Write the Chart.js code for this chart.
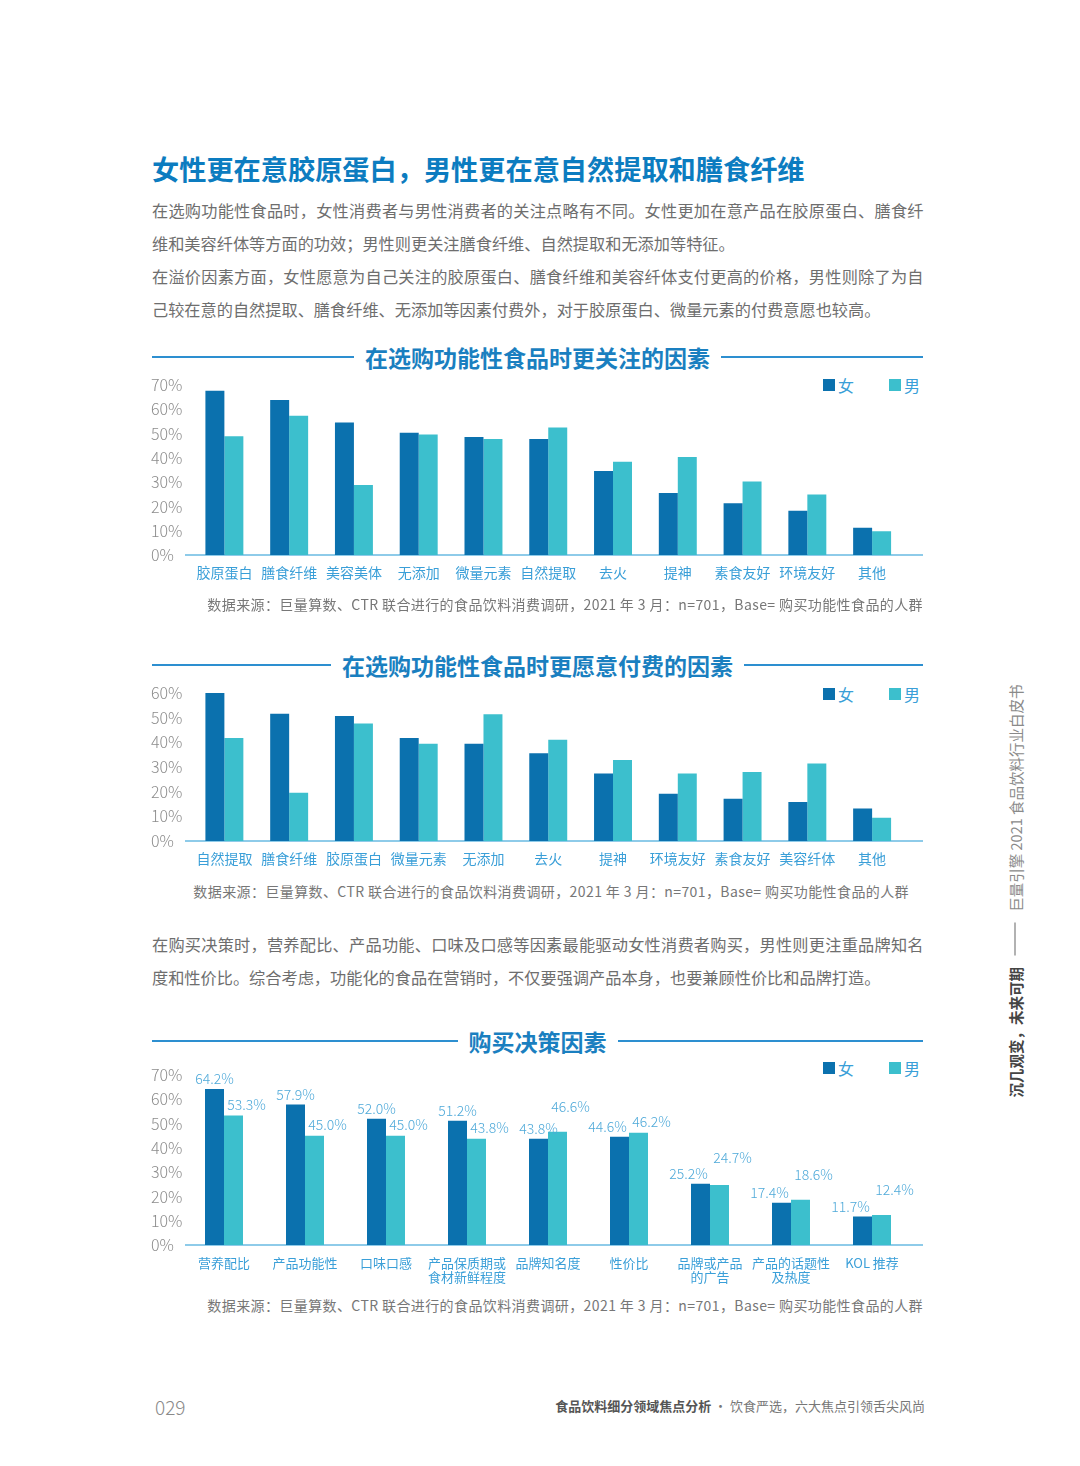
<!DOCTYPE html>
<html><head><meta charset="utf-8">
<script src="https://cdn.jsdelivr.net/npm/chart.js@4.4.0/dist/chart.umd.min.js"></script>
<style>
body{margin:0;background:#fff;}
#page{position:relative;width:1080px;height:1466px;overflow:hidden;background:#fff;font-family:"Noto Sans CJK SC","Noto Sans",sans-serif;}
.abs{position:absolute;}
.title{left:152px;top:148px;font-size:27.2px;font-weight:bold;color:#0c7cc0;white-space:nowrap;line-height:40px;}
.para{left:152px;width:771px;font-size:16.2px;color:#6e6e6e;white-space:nowrap;line-height:33px;}
.para .j{text-align:justify;text-align-last:justify;letter-spacing:-0.5px;}
.sec{left:152px;width:771px;height:32px;display:flex;align-items:center;}
.sec .ln{flex:1;height:2px;background:#2d8fd0;}
.sec .tx{font-size:23px;font-weight:bold;color:#1a7fc0;margin:0 11px;white-space:nowrap;line-height:32px;}
.legend{height:20px;display:flex;align-items:center;font-size:16px;color:#3a9fd8;}
.legend .sq{width:12px;height:12px;display:inline-block;margin-right:3px;}
.src{font-size:14px;letter-spacing:0.4px;color:#777;white-space:nowrap;line-height:20px;}
canvas{position:absolute;}
.side{left:808px;top:881px;width:413px;height:20px;transform:rotate(-90deg);transform-origin:50% 50%;display:flex;align-items:center;font-size:14.5px;white-space:nowrap;}
</style></head><body>
<div id="page">
  <div class="abs title">女性更在意胶原蛋白，男性更在意自然提取和膳食纤维</div>
  <div class="abs para" style="top:194px;">
    <div class="j">在选购功能性食品时，女性消费者与男性消费者的关注点略有不同。女性更加在意产品在胶原蛋白、膳食纤</div>
    <div>维和美容纤体等方面的功效；男性则更关注膳食纤维、自然提取和无添加等特征。</div>
    <div class="j">在溢价因素方面，女性愿意为自己关注的胶原蛋白、膳食纤维和美容纤体支付更高的价格，男性则除了为自</div>
    <div>己较在意的自然提取、膳食纤维、无添加等因素付费外，对于胶原蛋白、微量元素的付费意愿也较高。</div>
  </div>

  <div class="abs sec" style="top:341px;"><div class="ln"></div><div class="tx">在选购功能性食品时更关注的因素</div><div class="ln"></div></div>
  <div class="abs legend" style="left:823px;top:375px;"><span class="sq" style="background:#0b71ae"></span>女<span style="width:35px"></span><span class="sq" style="background:#3cbfcd"></span>男</div>
  <canvas id="c1" width="790" height="225" style="left:140px;top:370px;"></canvas>
  <div class="abs src" style="right:157px;top:594px;">数据来源：巨量算数、CTR 联合进行的食品饮料消费调研，2021 年 3 月：n=701，Base= 购买功能性食品的人群</div>

  <div class="abs sec" style="top:649px;"><div class="ln"></div><div class="tx">在选购功能性食品时更愿意付费的因素</div><div class="ln"></div></div>
  <div class="abs legend" style="left:823px;top:684px;"><span class="sq" style="background:#0b71ae"></span>女<span style="width:35px"></span><span class="sq" style="background:#3cbfcd"></span>男</div>
  <canvas id="c2" width="790" height="200" style="left:140px;top:680px;"></canvas>
  <div class="abs src" style="right:171px;top:881px;">数据来源：巨量算数、CTR 联合进行的食品饮料消费调研，2021 年 3 月：n=701，Base= 购买功能性食品的人群</div>

  <div class="abs para" style="top:928px;">
    <div class="j">在购买决策时，营养配比、产品功能、口味及口感等因素最能驱动女性消费者购买，男性则更注重品牌知名</div>
    <div>度和性价比。综合考虑，功能化的食品在营销时，不仅要强调产品本身，也要兼顾性价比和品牌打造。</div>
  </div>

  <div class="abs sec" style="top:1025px;"><div class="ln"></div><div class="tx">购买决策因素</div><div class="ln"></div></div>
  <div class="abs legend" style="left:823px;top:1058px;"><span class="sq" style="background:#0b71ae"></span>女<span style="width:35px"></span><span class="sq" style="background:#3cbfcd"></span>男</div>
  <canvas id="c3" width="790" height="240" style="left:140px;top:1055px;"></canvas>
  <div class="abs src" style="right:157px;top:1295px;">数据来源：巨量算数、CTR 联合进行的食品饮料消费调研，2021 年 3 月：n=701，Base= 购买功能性食品的人群</div>

  <div class="abs side"><span style="font-weight:bold;color:#444;">沉几观变，未来可期</span><span style="display:inline-block;width:35px;height:1px;background:#666;margin:0 11px;"></span><span style="color:#8a8a8a;">巨量引擎 2021 食品饮料行业白皮书</span></div>

  <div class="abs" style="left:155px;top:1394px;font-size:19px;color:#8a8a8a;font-weight:300;line-height:26px;">029</div>
  <div class="abs" style="right:155px;top:1396px;font-size:13px;line-height:20px;white-space:nowrap;"><span style="font-weight:bold;color:#555;">食品饮料细分领域焦点分析</span><span style="color:#777;"> · 饮食严选，六大焦点引领舌尖风尚</span></div>
</div>
<script>
// ---- data ----
const seriesNames = ['女', '男'];

const c1Categories = ['胶原蛋白','膳食纤维','美容美体','无添加','微量元素','自然提取','去火','提神','素食友好','环境友好','其他'];
const c1Female = [67.6, 63.8, 54.6, 50.3, 48.6, 47.8, 34.6, 25.5, 21.3, 18.2, 11.2];
const c1Male   = [48.9, 57.3, 28.8, 49.6, 47.8, 52.5, 38.4, 40.4, 30.3, 24.9, 9.8];
const c1AxisMax = 70;

const c2Categories = ['自然提取','膳食纤维','胶原蛋白','微量元素','无添加','去火','提神','环境友好','素食友好','美容纤体','其他'];
const c2Female = [60.1, 51.6, 50.7, 41.8, 39.4, 35.6, 27.4, 19.2, 17.1, 15.8, 13.2];
const c2Male   = [41.8, 19.6, 47.6, 39.4, 51.4, 41.0, 32.8, 27.4, 28.0, 31.4, 9.4];
const c2AxisMax = 60;

const c3Categories = [['营养配比'],['产品功能性'],['口味口感'],['产品保质期或','食材新鲜程度'],['品牌知名度'],['性价比'],['品牌或产品','的广告'],['产品的话题性','及热度'],['KOL 推荐']];
const c3Female = [64.2, 57.9, 52.0, 51.2, 43.8, 44.6, 25.2, 17.4, 11.7];
const c3Male   = [53.3, 45.0, 45.0, 43.8, 46.6, 46.2, 24.7, 18.6, 12.4];
const c3AxisMax = 70;

const tickStep = 10;
const tickSuffix = '%';

// ---- style ----
const FONT = '"Noto Sans CJK SC","Noto Sans",sans-serif';
const FEMALE = '#0b71ae';
const MALE = '#3cbfcd';

const baselinePlugin = {
  id: 'baseline',
  beforeDatasetsDraw(chart, args, o) {
    const ctx = chart.ctx;
    const y = chart.scales.y.getPixelForValue(0);
    ctx.save();
    ctx.strokeStyle = '#8ecbe9';
    ctx.lineWidth = 2;
    ctx.beginPath();
    ctx.moveTo(o.x0, y);
    ctx.lineTo(o.x1, y);
    ctx.stroke();
    ctx.restore();
  }
};

// value labels: female centred (nudged left when the pair is close), male nudged right,
// male raised when the pair is close or it would collide with a neighbouring label
const valueLabelPlugin = {
  id: 'valueLabels',
  afterDatasetsDraw(chart, args, o) {
    if (!o.show) return;
    const ctx = chart.ctx;
    const f = chart.data.datasets[0].data, m = chart.data.datasets[1].data;
    const fe = chart.getDatasetMeta(0).data, me = chart.getDatasetMeta(1).data;
    ctx.save();
    ctx.font = '300 14px ' + FONT;
    ctx.fillStyle = '#4ea9d9';
    ctx.textAlign = 'center';
    ctx.textBaseline = 'middle';
    const fl = fe.map((el, i) => {
      const txt = f[i].toFixed(1) + '%';
      const dx = Math.abs(f[i] - m[i]) < 2 ? -12 : 0;
      return {txt, x: el.x + dx, y: el.y - 10, w: ctx.measureText(txt).width};
    });
    const ml = me.map((el, i) => {
      const txt = m[i].toFixed(1) + '%';
      let lab = {txt, x: el.x + 13, y: el.y - 11, w: ctx.measureText(txt).width};
      const hits = (a, b) => Math.abs(a.x - b.x) < (a.w + b.w) / 2 && Math.abs(a.y - b.y) < 15;
      const next = fl[i + 1];
      if (Math.abs(f[i] - m[i]) < 1.5 || hits(lab, fl[i]) || (next && hits(lab, next))) {
        lab.y = Math.min(lab.y - 14, fl[i].y - 16);
      }
      return lab;
    });
    fl.concat(ml).forEach(l => ctx.fillText(l.txt, l.x, l.y));
    ctx.restore();
  }
};

function makeChart(id, cats, fem, mal, o) {
  return new Chart(document.getElementById(id), {
    type: 'bar',
    data: {
      labels: cats,
      datasets: [
        {label: seriesNames[0], data: fem, backgroundColor: FEMALE, categoryPercentage: o.catPct, barPercentage: 1},
        {label: seriesNames[1], data: mal, backgroundColor: MALE, categoryPercentage: o.catPct, barPercentage: 1}
      ]
    },
    options: {
      responsive: false,
      animation: false,
      devicePixelRatio: 1,
      layout: {padding: {left: 11, top: o.padTop, right: o.padRight, bottom: 0}},
      plugins: {
        legend: {display: false},
        tooltip: {enabled: false},
        baseline: {x0: 45, x1: 783},
        valueLabels: {show: !!o.values}
      },
      scales: {
        x: {
          grid: {display: false, drawTicks: false},
          border: {display: false},
          ticks: {color: '#3a9fd8', font: {size: o.xFont, family: FONT, lineHeight: 1.1}, padding: o.xPad, maxRotation: 0, autoSkip: false},
          afterFit(s) { s.height = o.xHeight; }
        },
        y: {
          min: 0, max: o.max,
          grid: {display: false, drawTicks: false},
          border: {display: false},
          ticks: {stepSize: tickStep, callback: v => v + tickSuffix, color: '#8c8c8c', font: {size: 16, family: FONT, weight: 300}, crossAlign: 'far', padding: 0},
          afterFit(s) { s.width = o.yWidth; }
        }
      }
    },
    plugins: [baselinePlugin, valueLabelPlugin]
  });
}

makeChart('c1', c1Categories, c1Female, c1Male, {max: c1AxisMax, catPct: 0.586, padTop: 15, padRight: 25.5, yWidth: 41, xHeight: 40, xFont: 14, xPad: 10});
makeChart('c2', c2Categories, c2Female, c2Male, {max: c2AxisMax, catPct: 0.586, padTop: 13, padRight: 25.5, yWidth: 41, xHeight: 39, xFont: 14, xPad: 10});
makeChart('c3', c3Categories, c3Female, c3Male, {max: c3AxisMax, catPct: 0.469, padTop: 20, padRight: 17.5, yWidth: 32.5, xHeight: 50, xFont: 13, xPad: 11, values: true});
</script>
</body></html>
